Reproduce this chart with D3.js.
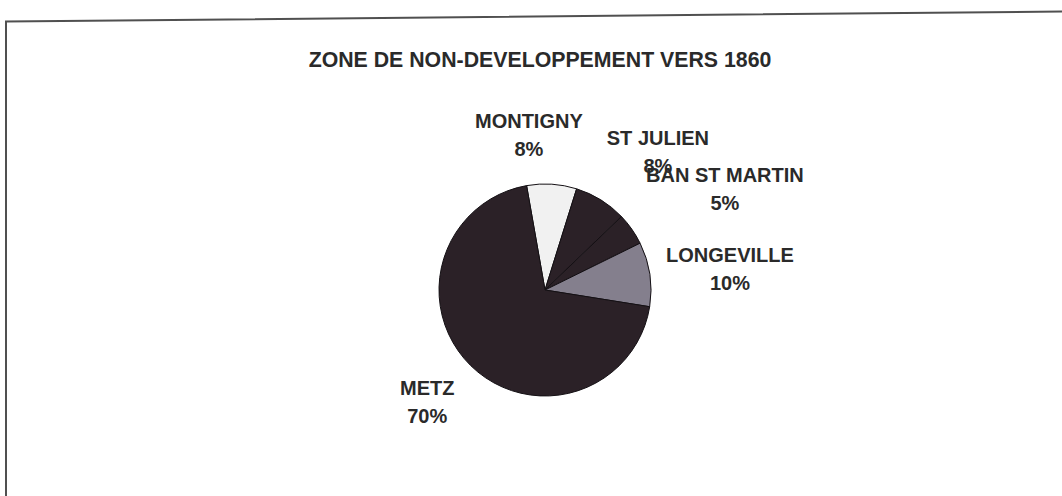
<!DOCTYPE html>
<html>
<head>
<meta charset="utf-8">
<script src="https://cdn.jsdelivr.net/npm/d3@7/dist/d3.min.js"></script>
<style>
  html, body { margin: 0; padding: 0; background: #ffffff; }
  svg { display: block; }
</style>
</head>
<body>
<svg id="chart" width="1062" height="496"></svg>
<script>
// ---- data ----
const title = "ZONE DE NON-DEVELOPPEMENT VERS 1860";
const categories = ["MONTIGNY", "ST JULIEN", "BAN ST MARTIN", "LONGEVILLE", "METZ"];
const values = [7.6, 8.0, 4.9, 9.8, 69.7];

// ---- styling / layout ----
const W = 1062, H = 496;
const cx = 545, cy = 290, R = 106;
const startDeg = -10;
const fills = ["#f1f1f1", "#2b2127", "#2b2127", "#847f8d", "#2b2127"];
const labelNudge = [[-26, 4], [32, -1], [54, -7], [33, 8], [-10, 8]];
const textColor = "#2a2a2a";

const svg = d3.select("#chart");

// frame (scanned, slightly tilted)
svg.append("path")
  .attr("d", d3.line()([[W + 2, 11.5], [6, 21.5], [6, H + 2]]))
  .attr("fill", "none")
  .attr("stroke", "#505050")
  .attr("stroke-width", 2);

// title
svg.append("text")
  .attr("x", 540)
  .attr("y", 67)
  .attr("text-anchor", "middle")
  .attr("font-family", "Liberation Sans, Arial, sans-serif")
  .attr("font-weight", "bold")
  .attr("font-size", 21.3)
  .attr("fill", textColor)
  .text(title);

const total = d3.sum(values);
const rad = d => d * Math.PI / 180;
const pie = d3.pie().sort(null)
  .startAngle(rad(startDeg))
  .endAngle(rad(startDeg) + 2 * Math.PI);
const arcs = pie(values);

const arc = d3.arc().innerRadius(0).outerRadius(R);
const labelArc = d3.arc().innerRadius(R * 1.45).outerRadius(R * 1.45);

const g = svg.append("g").attr("transform", `translate(${cx},${cy})`);

g.selectAll("path.slice")
  .data(arcs)
  .join("path")
  .attr("class", "slice")
  .attr("d", arc)
  .attr("fill", (d, i) => fills[i])
  .attr("stroke", "#141014")
  .attr("stroke-width", 1);

const labels = g.selectAll("text.lbl")
  .data(arcs)
  .join("text")
  .attr("class", "lbl")
  .attr("text-anchor", "middle")
  .attr("font-family", "Liberation Sans, Arial, sans-serif")
  .attr("font-weight", "bold")
  .attr("font-size", 20)
  .attr("fill", textColor)
  .attr("transform", (d, i) => {
    const [x, y] = labelArc.centroid(d);
    return `translate(${x + labelNudge[i][0]},${y + labelNudge[i][1]})`;
  });

labels.append("tspan")
  .attr("x", 0).attr("y", -13)
  .text((d, i) => categories[i]);
labels.append("tspan")
  .attr("x", 0).attr("y", 15)
  .text(d => Math.round(d.data / total * 100) + "%");
</script>
</body>
</html>
